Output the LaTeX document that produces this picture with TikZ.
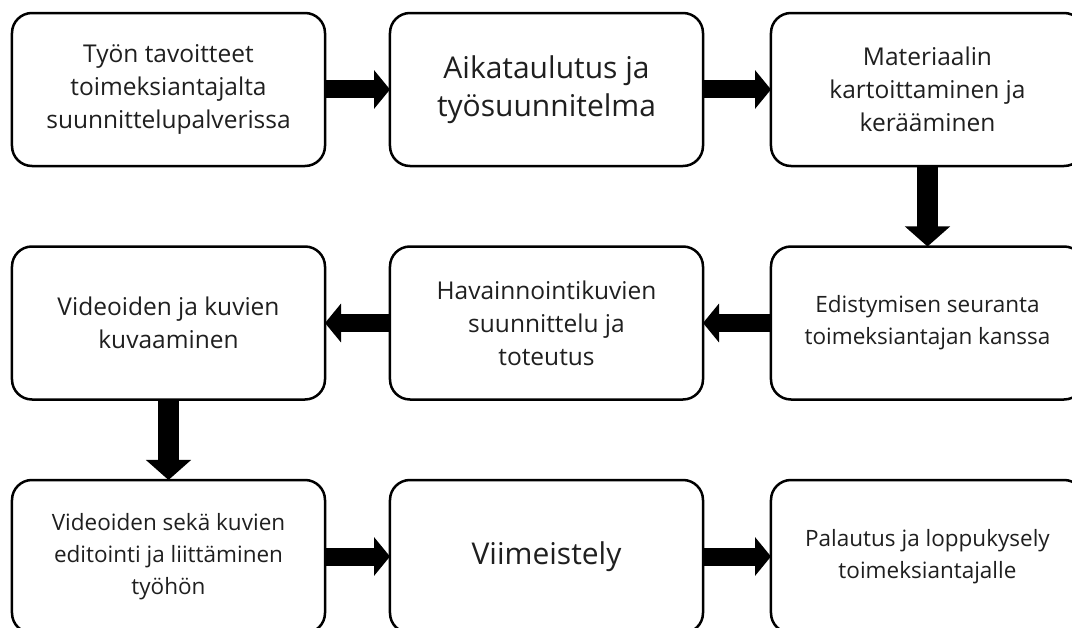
\documentclass[tikz,border=0pt]{standalone}
\usepackage{fontspec}
\setmainfont{Open Sans}
\usepackage{tikz}
\usetikzlibrary{arrows.meta}

\begin{document}
\begin{tikzpicture}[thick]
    % `task' is used for every rounded box of the work plan.
    % `big' and `slim' change the lettering of some boxes.
    % `flow' and `drop' are the thick block arrows between the boxes.
    \tikzstyle{task} = [draw,fill=white,line width=2.5pt,rounded corners=20pt,minimum width=313pt,minimum height=153pt,align=center,text=black!88,font=\fontsize{24.5}{33}\selectfont]
    \tikzstyle{slim} = [font=\fontsize{22.5}{32}\selectfont]
    \tikzstyle{big} = [font=\fontsize{30}{38}\selectfont]
    \tikzstyle{flow} = [line width=18pt,-{Triangle[length=16pt,width=38pt]}]
    \tikzstyle{drop} = [line width=21pt,-{Triangle[length=20pt,width=44pt]}]
    %
    \useasboundingbox (0,0) rectangle (1072pt,-628pt);
    \matrix[row sep=78pt, column sep=62.5pt, inner sep=0pt, outer sep=0pt, anchor=north west] (plan) at (10.75pt,-11.75pt) {
      \node[task] (t1) {Työn tavoitteet\\toimeksiantajalta\\suunnittelupalverissa}; &
      \node[task,big] (t2) {Aikataulutus ja\\työsuunnitelma}; &[3pt]
      \node[task] (t3) {Materiaalin\\kartoittaminen ja\\kerääminen}; \\

      \node[task] (t4) {Videoiden ja kuvien\\kuvaaminen}; &
      \node[task] (t5) {Havainnointikuvien\\suunnittelu ja\\toteutus}; &[3pt]
      \node[task,slim] (t6) {Edistymisen seuranta\\toimeksiantajan kanssa}; \\

      \node[task,slim] (t7) {Videoiden sekä kuvien\\editointi ja liittäminen\\työhön}; &
      \node[task,big] (t8) {Viimeistely}; &[3pt]
      \node[task,slim] (t9) {Palautus ja loppukysely\\toimeksiantajalle}; \\
    %
  };
    % Draw arrows.
    \draw[flow] (t1) -- (t2);
    \draw[flow] (t2) -- (t3);
    \draw[drop] (t3) -- (t6);
    \draw[flow] (t6) -- (t5);
    \draw[flow] (t5) -- (t4);
    \draw[drop] (t4) -- (t7);
    \draw[flow] (t7) -- (t8);
    \draw[flow] (t8) -- (t9);
\end{tikzpicture}
\end{document}
